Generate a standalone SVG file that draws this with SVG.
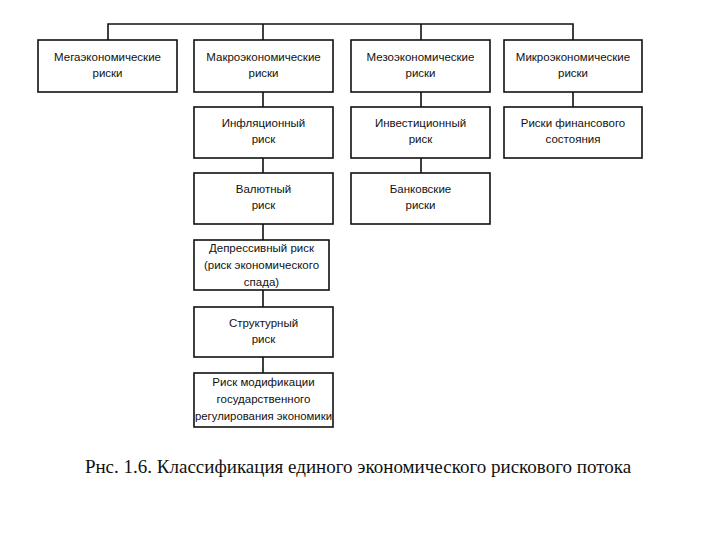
<svg xmlns="http://www.w3.org/2000/svg" width="720" height="540" viewBox="0 0 720 540">
<style>
.box{fill:#fff;stroke:#111;stroke-width:1.6}
.t{font-family:"Liberation Sans",Arial,sans-serif;font-size:11.5px;fill:#111;text-anchor:middle}
.c{stroke:#111;stroke-width:1.6;fill:none}
.cap{font-family:"Liberation Serif","Times New Roman",serif;font-size:19px;fill:#111;text-anchor:middle}
</style>
<rect width="720" height="540" fill="#fff"/>
<g id="connectors">
<path class="c" d="M108 40V24H573V40"/>
<path class="c" d="M263 24V40"/>
<path class="c" d="M421 24V40"/>
<path class="c" d="M263 92V107M263 158V173M263 224V240M263 290V307M263 357V373"/>
<path class="c" d="M421 92V107M421 158V173"/>
<path class="c" d="M573 92V107"/>
</g>
<g id="mega"><rect class="box" x="38" y="40" width="139" height="52"/><text class="t" x="107.5" y="61">Мегаэкономические</text><text class="t" x="107.5" y="77">риски</text></g>
<g id="macro"><rect class="box" x="194" y="40" width="139" height="52"/><text class="t" x="263.5" y="61">Макроэкономические</text><text class="t" x="263.5" y="77">риски</text></g>
<g id="meso"><rect class="box" x="351" y="40" width="139" height="52"/><text class="t" x="420.5" y="61">Мезоэкономические</text><text class="t" x="420.5" y="77">риски</text></g>
<g id="micro"><rect class="box" x="504" y="40" width="138" height="52"/><text class="t" x="573" y="61">Микроэкономические</text><text class="t" x="573" y="77">риски</text></g>
<g id="inflation"><rect class="box" x="194" y="107" width="139" height="51"/><text class="t" x="263.5" y="127">Инфляционный</text><text class="t" x="263.5" y="143">риск</text></g>
<g id="invest"><rect class="box" x="351" y="107" width="139" height="51"/><text class="t" x="420.5" y="127">Инвестиционный</text><text class="t" x="420.5" y="143">риск</text></g>
<g id="finance"><rect class="box" x="504" y="107" width="138" height="51"/><text class="t" x="573" y="127">Риски финансового</text><text class="t" x="573" y="143">состояния</text></g>
<g id="currency"><rect class="box" x="194" y="173" width="139" height="51"/><text class="t" x="263.5" y="193">Валютный</text><text class="t" x="263.5" y="209">риск</text></g>
<g id="bank"><rect class="box" x="351" y="173" width="139" height="51"/><text class="t" x="420.5" y="193">Банковские</text><text class="t" x="420.5" y="209">риски</text></g>
<g id="depressive"><rect class="box" x="194" y="240" width="135" height="50"/><text class="t" x="261.5" y="252">Депрессивный риск</text><text class="t" x="261.5" y="269">(риск экономического</text><text class="t" x="261.5" y="286">спада)</text></g>
<g id="structural"><rect class="box" x="194" y="307" width="139" height="50"/><text class="t" x="263.5" y="327">Структурный</text><text class="t" x="263.5" y="343">риск</text></g>
<g id="modification"><rect class="box" x="194" y="373" width="139" height="54"/><text class="t" x="263.5" y="386">Риск модификации</text><text class="t" x="263.5" y="403">государственного</text><text class="t" x="263.5" y="420" textLength="137" lengthAdjust="spacingAndGlyphs">регулирования экономики</text></g>
<text class="cap" x="358" y="473">Рнс. 1.6. Классификация единого экономического рискового потока</text>
</svg>
